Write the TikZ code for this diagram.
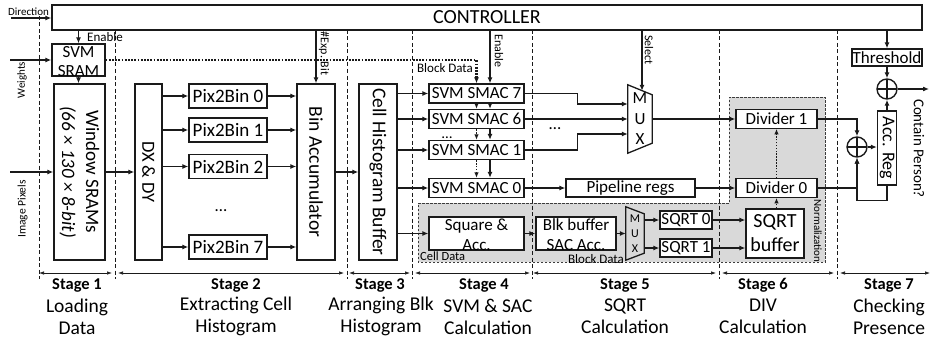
\documentclass[tikz,border=0pt]{standalone}
\usepackage{fontspec}
\setmainfont{Carlito}
\usetikzlibrary{arrows.meta}
\definecolor{lc}{HTML}{1A1A1A}
\definecolor{greg}{HTML}{D9D9D9}
\begin{document}
\begin{tikzpicture}[x=1pt,y=-1pt,
  box/.style={draw=lc,line width=1.3pt,fill=white,inner sep=0pt,align=center,font=\fontsize{17}{20}\selectfont},
  arr/.style={draw=lc,line width=1.4pt,-{Latex[length=6pt,width=5pt]}},
  dotl/.style={draw=lc,line width=2.3pt,dash pattern=on 1.8pt off 1.4pt},
  dotarr/.style={draw=lc,line width=1.5pt,dash pattern=on 1.5pt off 1.4pt,-{Latex[length=5.5pt,width=4.5pt]}},
  stline/.style={draw=lc,line width=0.7pt,dash pattern=on 4pt off 2.5pt},
  dimarr/.style={draw=lc,line width=0.7pt,{Latex[length=5pt,width=3.5pt]}-{Latex[length=5pt,width=3.5pt]}},
  lbl/.style={inner sep=0pt,font=\fontsize{12}{14}\selectfont},
  txt/.style={inner sep=0pt,align=center},
  dotsn/.style={inner sep=0pt,anchor=base,text height=2.5pt,text depth=0pt,font=\fontsize{17}{20}\selectfont},
  sttl/.style={inner sep=0pt,font=\bfseries\fontsize{16.5}{19}\selectfont},
  sdesc/.style={inner sep=0pt,align=center,font=\fontsize{19.5}{22}\selectfont},
  xsum/.style={circle,draw=lc,line width=1.4pt,fill=white,minimum size=20pt,inner sep=0pt,
    path picture={\draw[lc,line width=1.4pt] (path picture bounding box.north) -- (path picture bounding box.south) (path picture bounding box.west) -- (path picture bounding box.east);}}
]
\useasboundingbox (0,0) rectangle (931,345);

% gray normalization region
\path[fill=greg,draw=lc!85,line width=0.8pt,dash pattern=on 2.5pt off 1.5pt]
  (418,203) -- (729,203) -- (729,97) -- (825,97) -- (825,262) -- (418,262) -- cycle;

% stage boundaries
\draw[stline] (39,16) -- (39,279);
\foreach \x in {115,347,412,532,719,837} \draw[stline] (\x,30) -- (\x,279);

% stage dimension arrows
\draw[dimarr] (39,273) -- (112,273);
\draw[dimarr] (118,273) -- (344,273);
\draw[dimarr] (349,273) -- (410,273);
\draw[dimarr] (415,273) -- (530,273);
\draw[dimarr] (533,273) -- (716,273);
\draw[dimarr] (722,273) -- (834,273);
\draw[dimarr] (840,273) -- (930,273);

% stage labels
\node[sttl] (st1) at (77,285) {Stage 1};
\node[sdesc] (sd1) at (77,316.5) {Loading\\Data};
\node[sttl] (st2) at (236,285) {Stage 2};
\node[sdesc] (sd2) at (236,316.5) {Extracting Cell\\Histogram};
\node[sttl] (st3) at (380,285) {Stage 3};
\node[sdesc] (sd3) at (381,316.5) {Arranging Blk\\Histogram};
\node[sttl] (st4) at (484,285) {Stage 4};
\node[sdesc] (sd4) at (488,316.5) {SVM \& SAC\\Calculation};
\node[sttl] (st5) at (625,285) {Stage 5};
\node[sdesc] (sd5) at (625,316.5) {SQRT\\Calculation};
\node[sttl] (st6) at (763,285) {Stage 6};
\node[sdesc] (sd6) at (763,316.5) {DIV\\Calculation};
\node[sttl] (st7) at (889,285) {Stage 7};
\node[sdesc] (sd7) at (889,316.5) {Checking\\Presence};

% blocks
\node[box,minimum width=870pt,minimum height=25pt,font=\fontsize{20}{24}\selectfont] (ctrl) at (487,17.5) {CONTROLLER};
\node[box,minimum width=53pt,minimum height=32pt] (sram) at (78.5,60) {};
\node[txt,font=\fontsize{17}{19}\selectfont] (sramT) at (78.5,61.5) {SVM\\SRAM};
\node[box,minimum width=51pt,minimum height=176pt] (win) at (79.5,172) {};
\node[txt,rotate=-90,font=\fontsize{19}{24}\selectfont] (winT) at (win.center) {Window SRAMs\\\textit{(66 × 130 × 8-bit)}};
\node[box,minimum width=27pt,minimum height=176pt] (dx) at (148.5,172) {};
\node[txt,rotate=-90,font=\fontsize{18.5}{22}\selectfont] (dxT) at (dx.center) {DX \& DY};
\node[box,minimum width=78pt,minimum height=24pt,font=\fontsize{19}{22}\selectfont] (pb0) at (228,96) {Pix2Bin 0};
\node[box,minimum width=78pt,minimum height=24pt,font=\fontsize{19}{22}\selectfont] (pb1) at (228,130) {Pix2Bin 1};
\node[box,minimum width=78pt,minimum height=24pt,font=\fontsize{19}{22}\selectfont] (pb2) at (228,166.5) {Pix2Bin 2};
\node[box,minimum width=78pt,minimum height=24pt,font=\fontsize{19}{22}\selectfont] (pb7) at (228,247) {Pix2Bin 7};
\node[dotsn] (pdots) at (221,211) {…};
\node[box,minimum width=38pt,minimum height=176pt] (bacc) at (316,172) {};
\node[txt,rotate=-90,font=\fontsize{19.5}{22}\selectfont] (baccT) at (bacc.center) {Bin Accumulator};
\node[box,minimum width=38pt,minimum height=176pt] (chb) at (378,172) {};
\node[txt,rotate=-90,font=\fontsize{19.5}{22}\selectfont] (chbT) at (chb.center) {Cell Histogram Buffer};

\node[box,minimum width=95pt,minimum height=19pt] (s7) at (476.5,93.5) {SVM SMAC 7};
\node[box,minimum width=95pt,minimum height=19pt] (s6) at (476.5,119) {SVM SMAC 6};
\node[box,minimum width=95pt,minimum height=19pt] (s1) at (476.5,150) {SVM SMAC 1};
\node[box,minimum width=95pt,minimum height=19pt] (s0) at (476.5,188) {SVM SMAC 0};
\node[dotsn,font=\fontsize{15}{18}\selectfont] (sdots) at (447,138) {…};

\node[box,minimum width=95pt,minimum height=33pt] (sq) at (476.5,233.5) {};
\node[txt,font=\fontsize{17}{20}\selectfont] (sqT) at (476.5,235) {Square \&\\Acc.};
\node[box,minimum width=80pt,minimum height=33pt] (blk) at (576,233.5) {};
\node[txt,font=\fontsize{17}{20}\selectfont] (blkT) at (576,234.5) {Blk buffer\\SAC Acc.};

\node[box,minimum width=129pt,minimum height=18pt] (pipe) at (630.5,188) {Pipeline regs};
\node[txt,minimum width=24pt,minimum height=68pt,font=\fontsize{17}{20.5}\selectfont] (mux) at (640,119) {M\\U\\X};
\draw[lc,line width=1.3pt] (mux.north west) -- ([yshift=-10pt]mux.north east) -- ([yshift=10pt]mux.south east) -- (mux.south west) -- cycle;
\node[dotsn] (mdots) at (555,129) {…};

\node[txt,minimum width=18pt,minimum height=53pt,font=\fontsize{12}{15}\selectfont] (mux2) at (635,233.5) {M\\U\\X};
\draw[lc,line width=1.3pt] (mux2.north west) -- ([yshift=-7pt]mux2.north east) -- ([yshift=7pt]mux2.south east) -- (mux2.south west) -- cycle;

\node[box,minimum width=52pt,minimum height=18pt] (q0) at (686,220) {SQRT 0};
\node[box,minimum width=52pt,minimum height=18pt] (q1) at (686,248) {SQRT 1};
\node[box,minimum width=58pt,minimum height=49pt,font=\fontsize{20}{24}\selectfont] (qb) at (775,233.5) {SQRT\\buffer};

\node[box,minimum width=81pt,minimum height=18.5pt] (d1) at (776.5,119) {Divider 1};
\node[box,minimum width=81pt,minimum height=18.5pt] (d0) at (776.5,188) {Divider 0};

\node[xsum] (add1) at (857,147) {};
\node[box,minimum width=19pt,minimum height=74pt] (acc) at (887,148) {};
\node[txt,rotate=-90,font=\fontsize{18}{20}\selectfont] (accT) at (acc.center) {Acc. Reg};
\node[xsum] (add2) at (887,89) {};
\node[box,minimum width=70pt,minimum height=17pt] (thr) at (887,57.5) {Threshold};
\coordinate (outp) at (929,89);
\node[txt,rotate=-90,font=\fontsize{15}{17}\selectfont] (cpT) at (919,148.5) {Contain Person?};

% small labels
\node[lbl,font=\fontsize{11}{13}\selectfont] (dirL) at (28.5,11.5) {Direction};
\node[lbl,anchor=west,font=\fontsize{13}{15}\selectfont] (en1L) at (87,37.5) {Enable};
\node[lbl,rotate=90,font=\fontsize{11}{13}\selectfont] (wL) at (22,80) {Weights};
\node[lbl,rotate=90,font=\fontsize{11.5}{13}\selectfont] (ipL) at (22.5,209) {Image Pixels};
\node[lbl,rotate=-90] (expL) at (324,53.5) {\#Exp. Bit};
\node[lbl,font=\fontsize{13}{15}\selectfont] (bdL) at (445,68) {Block Data};
\node[lbl,rotate=-90] (en2L) at (499,51) {Enable};
\node[lbl,rotate=-90] (selL) at (649,50) {Select};
\node[lbl,anchor=south west,font=\fontsize{12.5}{14}\selectfont] (cdL) at (420,261) {Cell Data};
\node[lbl,font=\fontsize{13}{15}\selectfont] (bd2L) at (596,259) {Block Data};
\node[lbl,rotate=-90,font=\fontsize{11}{13}\selectfont] (normL) at (818,231) {Normalization};

% connectors
\coordinate (dirIn) at (11,18);
\draw[arr] (dirIn) -- (dirIn -| ctrl.west);
\coordinate (wIn) at (10,60);
\draw[arr] (wIn) -- (sram.west);
\coordinate (pIn) at (10,172);
\draw[arr] (pIn) -- (win.west);
\draw[arr] (sram.north |- ctrl.south) -- (sram.north);
\draw[arr] (sram.south) -- (sram.south |- win.north);
\draw[dotl,-{Latex[length=6pt,width=5pt]}] (sram.east) -| (s7.north);
\draw[arr] (win.east) -- (dx.west);
\foreach \n in {pb0,pb1,pb2,pb7} {
  \draw[arr] (\n.west -| dx.east) -- (\n.west);
  \draw[arr] (\n.east) -- (\n.east -| bacc.west);
}
\draw[arr] (bacc.north |- ctrl.south) -- (bacc.north);
\draw[arr] (bacc.east) -- (chb.west);
\foreach \n in {s7,s6,s1,s0} \draw[arr] (\n.west -| chb.east) -- (\n.west);
\draw[arr] (sq.west -| chb.east) -- (sq.west);
\draw[arr] ([xshift=13.5pt]s7.north |- ctrl.south) -- ([xshift=13.5pt]s7.north);
\foreach \a/\b in {s7/s6,s6/s1,s1/s0} {
  \draw[arr] ([xshift=13.5pt]\a.south) -- ([xshift=13.5pt]\b.north);
  \draw[dotarr] (\a.south) -- (\b.north);
}
\draw[arr] (s7.east) -- ++(53,0) |- ([yshift=15pt]mux.west);
\draw[arr] (s6.east) -- (mux.west);
\draw[arr] (s1.east) -- ++(53,0) |- ([yshift=-15pt]mux.west);
\coordinate (muxsel) at (642,90.8);
\draw[arr] (muxsel |- ctrl.south) -- (muxsel);
\draw[arr] (mux.east) -- (d1.west);
\draw[arr] (s0.east) -- (pipe.west);
\draw[arr] (pipe.east) -- (d0.west);
\draw[arr] (sq.east) -- (blk.west);
\draw[arr] (blk.east) -- (mux2.west);
\draw[arr] (q0.west -| mux2.east) -- (q0.west);
\draw[arr] (q1.west -| mux2.east) -- (q1.west);
\draw[arr] (q0.east) -- (q0.east -| qb.west);
\draw[arr] (q1.east) -- (q1.east -| qb.west);
\draw[dotarr] (d0.south |- qb.north) -- (d0.south);
\draw[dotarr] (d0.north) -- (d1.south);
\draw[arr] (d1.east) -| (add1.north);
\draw[arr] (d0.east) -| (add1.south);
\draw[arr] (acc.south) -- ++(0,15) -| (add1.south);
\draw[arr] (add1.east) -- (add1.east -| acc.west);
\draw[arr] (acc.north) -- (add2.south);
\draw[arr] (thr.north |- ctrl.south) -- (thr.north);
\draw[arr] (thr.south) -- (add2.north);
\draw[arr] (add2.east) -- (outp);
\end{tikzpicture}
\end{document}
